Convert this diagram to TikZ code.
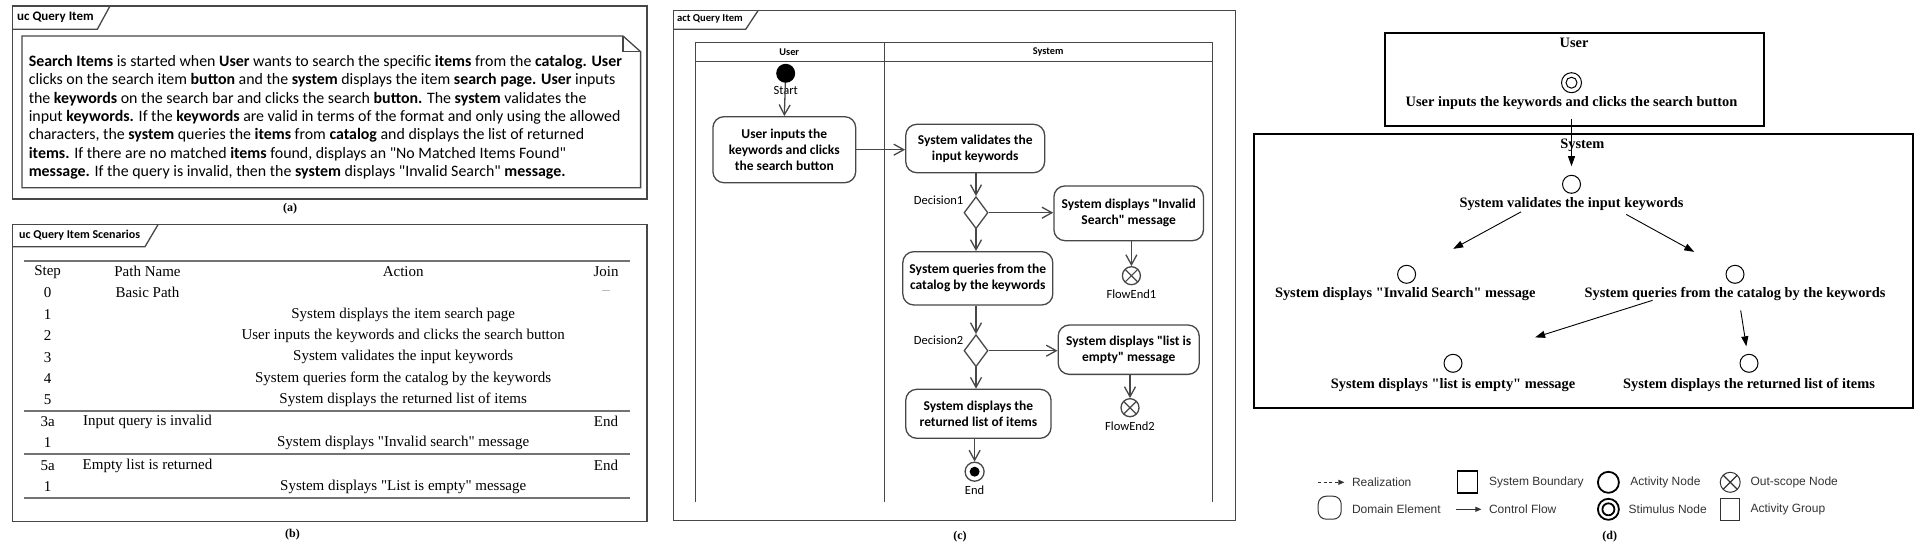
\documentclass[tikz,border=0pt]{standalone}
\usepackage{fontspec}
\setmainfont{Liberation Serif}[Ligatures=TeXOff]
\newfontfamily\calibrifont{Carlito}
\newfontfamily\arialfont{Liberation Sans}
\usepackage{xcolor}
\usetikzlibrary{shapes.geometric, arrows.meta, positioning, calc}
\definecolor{umlgray}{HTML}{474747}
\tikzset{
	frame/.style={draw=umlgray, line width=1.3pt},
	tabtext/.style={anchor=west, inner sep=0pt, font=\calibrifont\bfseries\fontsize{#1}{#1}\selectfont},
	story/.style={anchor=west, align=left, inner sep=0pt, font=\calibrifont\fontsize{15.9}{18.3}\selectfont},
	cell/.style={inner sep=0pt, font=\fontsize{15}{18}\selectfont},
	rule/.style={draw=black!55, line width=2pt},
	action/.style={rectangle, draw=umlgray, line width=1.3pt, rounded corners=11pt, align=center, inner sep=0pt, font=\calibrifont\bfseries\fontsize{13.5}{16}\selectfont},
	lane/.style={inner sep=0pt, font=\calibrifont\bfseries\fontsize{10.3}{12}\selectfont},
	lbl/.style={inner sep=0pt, font=\calibrifont\fontsize{12.5}{14}\selectfont},
	flow/.style={draw=umlgray, line width=1.3pt, -{Straight Barb[length=10pt, width=11pt]}},
	decision/.style={diamond, draw=umlgray, line width=1.3pt, minimum width=24pt, minimum height=32pt, inner sep=0pt},
	initial/.style={circle, fill=black, minimum size=19pt, inner sep=0pt},
	actfinal/.style={circle, draw=umlgray, line width=1.3pt, minimum size=19pt, inner sep=0pt,
		path picture={\fill (path picture bounding box.center) circle (5pt);}},
	flowfinal/.style={circle, draw=umlgray, line width=1.3pt, minimum size=18pt, inner sep=0pt,
		path picture={\draw[line width=1.2pt] (path picture bounding box.north west) -- (path picture bounding box.south east)
			(path picture bounding box.north east) -- (path picture bounding box.south west);}},
	actnode/.style={circle, draw, line width=1pt, minimum size=18pt, inner sep=0pt},
	stimnode/.style={actnode, minimum size=20pt, path picture={\draw[line width=1pt] (path picture bounding box.center) circle (5.5pt);}},
	dtext/.style={inner sep=0pt, font=\bfseries\fontsize{14.4}{16}\selectfont},
	dflow/.style={draw, line width=0.9pt, -{Triangle[length=10pt, width=7pt]}},
	bnd/.style={draw, line width=2pt},
	legtext/.style={anchor=west, inner sep=0pt, text=black!80, font=\arialfont\fontsize{12}{14}\selectfont},
	legarrow/.style={draw=black!80, line width=0.9pt, -{Triangle[length=6pt, width=5pt]}},
	caption/.style={inner sep=0pt, font=\bfseries\fontsize{12}{14}\selectfont}
}

\begin{document}
\begin{tikzpicture}[x=1pt, y=-1pt]
	\useasboundingbox (0,0) rectangle (1922,552);

	% (a) use case description
	\draw[frame] (12.6,6) rectangle (647,199);
	\draw[frame] (12.6,29.3) -- (97.3,29.3) -- (110,6);
	\node[tabtext=13] (uctab) at (17,17.7) {uc Query Item};
	\draw[frame] (22,36) -- (623,36) -- (640.6,51.7) -- (640.6,187.7) -- (22,187.7) -- cycle;
	\draw[frame] (623,36) -- (623,51.7) -- (640.6,51.7);
	\node[story] (usecase) at (28.6,117.3) {\textbf{Search Items} is started when \textbf{User} wants to search the specific \textbf{items} from the \textbf{catalog. User}\\
		clicks on the search item \textbf{button} and the \textbf{system} displays the item \textbf{search page. User} inputs\\
		the \textbf{keywords} on the search bar and clicks the search \textbf{button.} The \textbf{system} validates the\\
		input \textbf{keywords.} If the \textbf{keywords} are valid in terms of the format and only using the allowed\\
		characters, the \textbf{system} queries the \textbf{items} from \textbf{catalog} and displays the list of returned\\
		\textbf{items.} If there are no matched \textbf{items} found, displays an "No Matched Items Found"\\
		\textbf{message.} If the query is invalid, then the \textbf{system} displays "Invalid Search" \textbf{message.}};
	\node[caption] (capa) at (290,209) {(a)};

	% (b) scenario table
	\draw[frame] (12.6,224.7) rectangle (647,521.7);
	\draw[frame] (12.6,246.7) -- (145,246.7) -- (158,224.7);
	\node[tabtext=12] (sctab) at (19,235.3) {uc Query Item Scenarios};
	\foreach \yy in {261,411,454.3,497.7}
		\draw[rule] (24.4,\yy) -- (630,\yy);
	\foreach \yy/\st [count=\r] in {271.7/Step, 292.7/0, 315/1, 336/2, 357.3/3, 378.7/4, 400/5, 421.7/3a, 442.7/1, 465.7/5a, 486.7/1}
		\node[cell] (step-\r) at (47.6,\yy) {\st};
	\foreach \yy/\pn [count=\r] in {271.7/Path Name, 292.7/Basic Path, 421.7/Input query is invalid, 465.7/Empty list is returned}
		\node[cell] (path-\r) at (147.5,\yy) {\pn};
	\foreach \yy/\ac [count=\r] in {271.7/Action, 315/System displays the item search page, 336/User inputs the keywords and clicks the search button,
		357.3/System validates the input keywords, 378.7/System queries form the catalog by the keywords, 400/System displays the returned list of items,
		442.7/System displays "Invalid search" message, 486.7/System displays "List is empty" message}
		\node[cell] (action-\r) at (403.2,\yy) {\ac};
	\node[cell] (join-1) at (606,271.7) {Join};
	\node[cell, text=black!35] (join-2) at (606,292.7) {\textendash};
	\node[cell] (join-3) at (606,421.7) {End};
	\node[cell] (join-4) at (606,465.7) {End};
	\node[caption] (capb) at (292.5,535) {(b)};

	% (c) activity diagram with swimlanes
	\draw[frame] (673.2,10.7) rectangle (1235.7,520.7);
	\draw[frame] (673.2,29.3) -- (745.7,29.3) -- (758,10.7);
	\node[tabtext=10.6] (acttab) at (677,19.3) {act Query Item};
	\draw[frame] (695.7,502) -- (695.7,42.3) -- (1212.7,42.3) -- (1212.7,502);
	\draw[frame] (695.7,61.7) -- (1212.7,61.7);
	\draw[frame] (884.3,42.3) -- (884.3,502);
	\node[lane] (laneuser) at (789.3,51.7) {User};
	\node[lane] (lanesys) at (1048.2,51.7) {System};

	\node[initial] (start) at (785.7,73.3) {};
	\node[lbl, below=3.5pt of start] (startlbl) {Start};
	\node[action, minimum width=142.8pt, minimum height=66pt] (userbox) at (784.3,149.7) {User inputs the\\keywords and clicks\\the search button};
	\node[action, minimum width=138.9pt, minimum height=48.4pt] (validbox) at (975.2,148.5) {System validates the\\input keywords};
	\node[decision] (dec1) at (976,212.7) {};
	\node[lbl, anchor=east] (dec1lbl) at (963.5,200) {Decision1};
	\node[action, minimum width=149.6pt, minimum height=54.7pt] (invalidbox) at (1128.7,213.3) {System displays "Invalid\\Search" message};
	\node[flowfinal] (fe1) at (1131.4,275.7) {};
	\node[lbl, below=4.5pt of fe1] (fe1lbl) {FlowEnd1};
	\node[action, minimum width=150pt, minimum height=53.3pt] (querybox) at (977.8,278.3) {System queries from the\\catalog by the keywords};
	\node[decision] (dec2) at (976,350.7) {};
	\node[lbl, anchor=east] (dec2lbl) at (963.5,340) {Decision2};
	\node[action, minimum width=141pt, minimum height=49.3pt] (emptybox) at (1128.7,349.7) {System displays "list is\\empty" message};
	\node[flowfinal] (fe2) at (1130,407.7) {};
	\node[lbl, below=4.2pt of fe2] (fe2lbl) {FlowEnd2};
	\node[action, minimum width=145.3pt, minimum height=49pt] (listbox) at (978.4,413.8) {System displays the\\returned list of items};
	\node[actfinal] (final) at (974.6,471.7) {};
	\node[lbl, below=3.6pt of final] (finallbl) {End};

	\path[flow] (start) -- (userbox.north);
	\path[flow] (userbox.east) -- (userbox.east -| validbox.west);
	\path[flow] (validbox.south -| dec1.north) -- (dec1.north);
	\path[flow] (dec1.east) -- (dec1.east -| invalidbox.west);
	\path[flow] (invalidbox.south -| fe1.north) -- (fe1.north);
	\path[flow] (dec1.south) -- (dec1.south |- querybox.north);
	\path[flow] (querybox.south -| dec2.north) -- (dec2.north);
	\path[flow] (dec2.east) -- (dec2.east -| emptybox.west);
	\path[flow] (emptybox.south -| fe2.north) -- (fe2.north);
	\path[flow] (dec2.south) -- (dec2.south |- listbox.north);
	\path[flow] (listbox.south -| final.north) -- (final.north);
	\node[caption] (capc) at (960,536.7) {(c)};

	% (d) activity groups
	\draw[bnd] (1384.8,32.7) rectangle (1764.2,126);
	\draw[bnd] (1254.4,134.3) rectangle (1913.4,407.7);
	\node[dtext] (grpuser) at (1574,43.3) {User};
	\node[dtext] (grpsys) at (1582.3,145) {System};

	\node[stimnode] (d-stim) at (1571.5,82.7) {};
	\node[dtext] (d-stimtxt) at (1571.5,103.3) {User inputs the keywords and clicks the search button};
	\node[actnode] (d-valid) at (1571.5,184.3) {};
	\node[dtext] (d-validtxt) at (1571.5,204) {System validates the input keywords};
	\node[actnode] (d-invalid) at (1406.6,274.3) {};
	\node[dtext] (d-invalidtxt) at (1405.3,294) {System displays "Invalid Search" message};
	\node[actnode] (d-query) at (1735,274.3) {};
	\node[dtext] (d-querytxt) at (1735,294) {System queries from the catalog by the keywords};
	\node[actnode] (d-empty) at (1453,363.3) {};
	\node[dtext] (d-emptytxt) at (1453,385) {System displays "list is empty" message};
	\node[actnode] (d-list) at (1749,363.3) {};
	\node[dtext] (d-listtxt) at (1749,385) {System displays the returned list of items};

	\path[dflow, shorten <=25.6pt, shorten >=8.6pt] (d-stim) -- (d-valid);
	\path[dflow, shorten <=48pt, shorten >=43.6pt] (d-valid) -- (d-invalid);
	\path[dflow, shorten <=53pt, shorten >=37pt] (d-valid) -- (d-query);
	\path[dflow, shorten <=77pt, shorten >=76.6pt] (d-query) -- (d-empty);
	\path[dflow, shorten <=27pt, shorten >=7.7pt] (d-query) -- (d-list);

	% legend
	\coordinate (leg-real) at (1318,482.3);
	\node[legtext] (realtxt) at (1351.8,482.3) {Realization};
	\path[legarrow, dashed, dash pattern=on 3pt off 2.5pt, shorten >=7.4pt] (leg-real) -- (realtxt.west);
	\node[draw, line width=1.8pt, minimum width=20pt, minimum height=22pt, inner sep=0pt] (leg-bnd) at (1467.5,482.2) {};
	\node[legtext] (bndtxt) at (1488.8,482.3) {System Boundary};
	\node[circle, draw, line width=1.8pt, minimum size=21pt, inner sep=0pt] (leg-act) at (1608.4,482.3) {};
	\node[legtext] (acttxt) at (1630.2,482.3) {Activity Node};
	\node[flowfinal, draw=black!80, line width=1pt, minimum size=20pt] (leg-out) at (1730.2,482.3) {};
	\node[legtext] (outtxt) at (1750.3,482.3) {Out-scope Node};
	\node[draw=black!80, rounded corners=8pt, line width=1pt, minimum width=23pt, minimum height=23pt, inner sep=0pt] (leg-dom) at (1329.7,507.7) {};
	\node[legtext] (domtxt) at (1351.8,509.3) {Domain Element};
	\coordinate (leg-ctl) at (1456.2,509.3);
	\node[legtext] (ctltxt) at (1488.8,509.3) {Control Flow};
	\path[legarrow, shorten >=7.4pt] (leg-ctl) -- (ctltxt.west);
	\node[circle, draw, line width=1.8pt, minimum size=21pt, inner sep=0pt,
		path picture={\draw[line width=1.8pt] (path picture bounding box.center) circle (6pt);}] (leg-stim) at (1608.4,509.3) {};
	\node[legtext] (stimtxt) at (1628.5,509.3) {Stimulus Node};
	\node[draw=black!80, line width=1pt, minimum width=18.3pt, minimum height=21.7pt, inner sep=0pt] (leg-grp) at (1729.9,509.2) {};
	\node[legtext] (grptxt) at (1750.3,509.3) {Activity Group};
	\node[caption] (capd) at (1609.7,536.7) {(d)};
\end{tikzpicture}
\end{document}
